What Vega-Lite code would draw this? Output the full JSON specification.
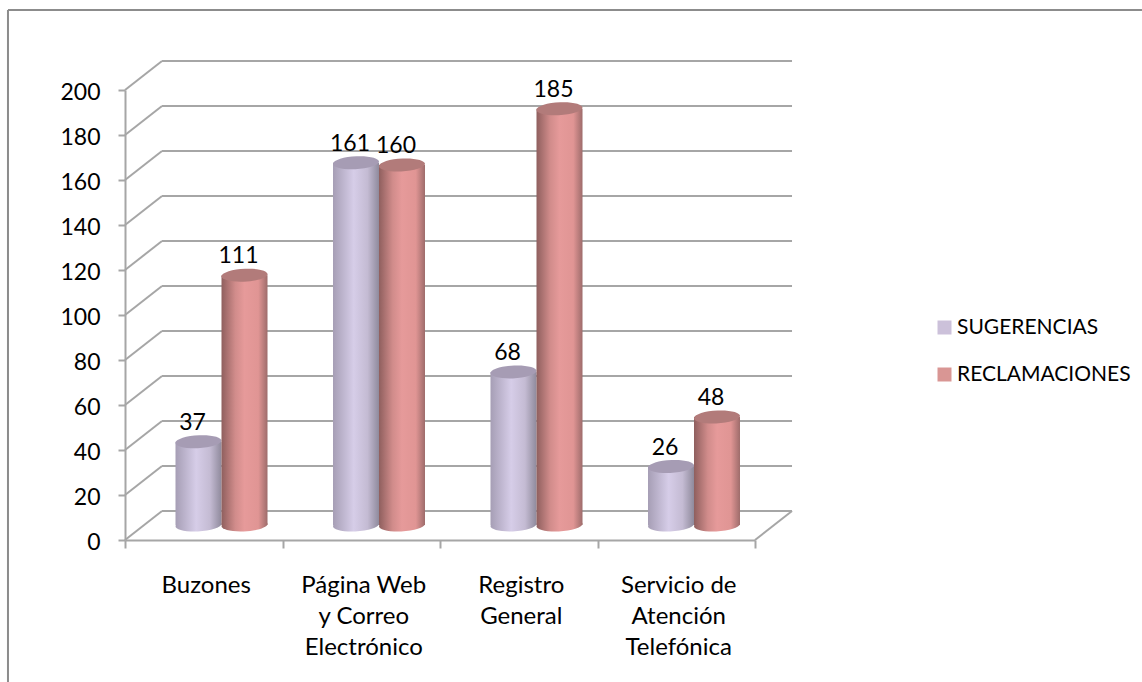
{
"$schema":"https://vega.github.io/schema/vega-lite/v6.json",
"width":630,"height":450,
"autosize":{"type":"none"},
"padding":{"left":125,"top":90,"right":387,"bottom":142},
"background":"white",
"config":{"view":{"stroke":null},"font":"Lato","text":{"font":"Lato"}},
"datasets":{
"grid":[{"value":0,"back":12.89},{"value":20,"back":32.89},{"value":40,"back":52.89},{"value":60,"back":72.89},{"value":80,"back":92.89},{"value":100,"back":112.89},{"value":120,"back":132.89},{"value":140,"back":152.89},{"value":160,"back":172.89},{"value":180,"back":192.89},{"value":200,"back":212.89}],
"bars":[
{"categoria":"Buzones","serie":"SUGERENCIAS","valor":37},
{"categoria":"Buzones","serie":"RECLAMACIONES","valor":111},
{"categoria":"Página Web y Correo Electrónico","serie":"SUGERENCIAS","valor":161},
{"categoria":"Página Web y Correo Electrónico","serie":"RECLAMACIONES","valor":160},
{"categoria":"Registro General","serie":"SUGERENCIAS","valor":68},
{"categoria":"Registro General","serie":"RECLAMACIONES","valor":185},
{"categoria":"Servicio de Atención Telefónica","serie":"SUGERENCIAS","valor":26},
{"categoria":"Servicio de Atención Telefónica","serie":"RECLAMACIONES","valor":48}
]},
"resolve":{"scale":{"x":"independent","y":"independent"}},
"layer":[
{"data":{"name":"grid"},
 "layer":[
 {"mark":{"type":"rule","color":"#a6a6a6","strokeWidth":2},
  "encoding":{"x":{"datum":0.235,"type":"quantitative","scale":{"domain":[0,4],"nice":false,"zero":false},"axis":null},"x2":{"datum":4.235},"y":{"field":"back","type":"quantitative","scale":{"domain":[0,200],"nice":false},"axis":{"title":null,"values":[0,20,40,60,80,100,120,140,160,180,200],"grid":false,"domain":true,"domainColor":"#a6a6a6","domainWidth":2,"ticks":true,"tickColor":"#a6a6a6","tickWidth":2,"tickSize":7,"labelFont":"Lato","labelFontSize":23,"labelColor":"#000000","labelPadding":18,"labelOffset":2}}}},
 {"mark":{"type":"rule","color":"#a6a6a6","strokeWidth":2},
  "encoding":{"x":{"datum":0,"type":"quantitative"},"x2":{"datum":0.235},"y":{"field":"value","type":"quantitative"},"y2":{"field":"back"}}},
 {"data":{"values":[{"x":4,"x2":4.235,"y":0,"y2":12.89}]},
  "mark":{"type":"rule","color":"#a6a6a6","strokeWidth":2},
  "encoding":{"x":{"field":"x","type":"quantitative"},"x2":{"field":"x2"},"y":{"field":"y","type":"quantitative"},"y2":{"field":"y2"}}},
 {"data":{"values":[{"x":-0.743,"x2":-0.743,"y":-63.1,"y2":235.6},{"x":-0.743,"x2":6.457,"y":235.6,"y2":235.6}]},
  "mark":{"type":"rule","color":"#8c8c8c","strokeWidth":2},
  "encoding":{"x":{"field":"x","type":"quantitative"},"x2":{"field":"x2"},"y":{"field":"y","type":"quantitative"},"y2":{"field":"y2"}}}
 ]},
{"data":{"name":"bars"},
 "encoding":{
  "x":{"field":"categoria","type":"nominal","sort":null,
   "scale":{"domain":["Buzones","Página Web y Correo Electrónico","Registro General","Servicio de Atención Telefónica"],"paddingInner":0,"paddingOuter":0},
   "axis":{"title":null,"orient":"bottom","domain":true,"domainColor":"#a6a6a6","domainWidth":2,"ticks":true,"tickBand":"extent","tickColor":"#a6a6a6","tickWidth":2,"tickSize":8,"labelAngle":0,"labelFont":"Lato","labelFontSize":24,"labelColor":"#000000","labelPadding":25,"labelLineHeight":31,"labelBaseline":"top","labelOffset":2,"labelExpr":"{'Buzones':['Buzones'],'Página Web y Correo Electrónico':['Página Web','y Correo','Electrónico'],'Registro General':['Registro','General'],'Servicio de Atención Telefónica':['Servicio de','Atención','Telefónica']}[datum.label]"}},
  "xOffset":{"field":"serie","type":"nominal","sort":null,"scale":{"domain":["SUGERENCIAS","RECLAMACIONES"],"range":[50.5,142.5],"paddingInner":0,"paddingOuter":0}},
  "y":{"field":"valor","type":"quantitative","scale":{"domain":[0,200],"nice":false,"range":[435,-15]},"axis":null}
 },
 "layer":[
 {"mark":{"type":"point","filled":true,"opacity":0},
  "encoding":{"color":{"field":"serie","type":"nominal","scale":{"domain":["SUGERENCIAS","RECLAMACIONES"],"range":["#ccc1da","#d99694"]},
   "legend":{"title":null,"orient":"none","legendX":809,"legendY":227,"symbolType":"square","symbolSize":196,"symbolOpacity":1,"symbolStrokeWidth":0,"labelFont":"Lato","labelFontSize":21,"labelColor":"#000000","labelOffset":2,"labelLimit":400,"rowPadding":25}}}},
 {"transform":[{"filter":"datum.serie=='SUGERENCIAS'"}],"mark":{"type":"point","filled":true,"size":2116,"opacity":1,"shape":"M-1,0.04 A1,0.28,-3,1,1,1,-0.04 A1,0.28,-3,1,1,-1,0.04 Z","fill":{"x1":0,"x2":1,"y1":0,"y2":0,"gradient":"linear","stops":[{"offset":0,"color":"#a69eb5"},{"offset":0.45,"color":"#d6cde8"},{"offset":0.75,"color":"#c4bbd3"},{"offset":1,"color":"#8f8a9c"}]}},"encoding":{"y":{"datum":0,"type":"quantitative"}}},
 {"transform":[{"filter":"datum.serie=='SUGERENCIAS'"}],"mark":{"type":"bar","fill":{"x1":0,"x2":1,"y1":0,"y2":0,"gradient":"linear","stops":[{"offset":0,"color":"#a69eb5"},{"offset":0.45,"color":"#d6cde8"},{"offset":0.75,"color":"#c4bbd3"},{"offset":1,"color":"#8f8a9c"}]}},"encoding":{"y2":{"datum":0}}},
 {"transform":[{"filter":"datum.serie=='SUGERENCIAS'"}],"mark":{"type":"point","filled":true,"size":2116,"opacity":1,"shape":"M-1,0.04 A1,0.28,-3,1,1,1,-0.04 A1,0.28,-3,1,1,-1,0.04 Z","fill":"#a69cb4"}},
 {"transform":[{"filter":"datum.serie=='RECLAMACIONES'"}],"mark":{"type":"point","filled":true,"size":2116,"opacity":1,"shape":"M-1,0.04 A1,0.28,-3,1,1,1,-0.04 A1,0.28,-3,1,1,-1,0.04 Z","fill":{"x1":0,"x2":1,"y1":0,"y2":0,"gradient":"linear","stops":[{"offset":0,"color":"#8f5f5e"},{"offset":0.3,"color":"#d18c8b"},{"offset":0.5,"color":"#e69a9a"},{"offset":0.8,"color":"#e09594"},{"offset":1,"color":"#9e6c6b"}]}},"encoding":{"y":{"datum":0,"type":"quantitative"}}},
 {"transform":[{"filter":"datum.serie=='RECLAMACIONES'"}],"mark":{"type":"bar","fill":{"x1":0,"x2":1,"y1":0,"y2":0,"gradient":"linear","stops":[{"offset":0,"color":"#8f5f5e"},{"offset":0.3,"color":"#d18c8b"},{"offset":0.5,"color":"#e69a9a"},{"offset":0.8,"color":"#e09594"},{"offset":1,"color":"#9e6c6b"}]}},"encoding":{"y2":{"datum":0}}},
 {"transform":[{"filter":"datum.serie=='RECLAMACIONES'"}],"mark":{"type":"point","filled":true,"size":2116,"opacity":1,"shape":"M-1,0.04 A1,0.28,-3,1,1,1,-0.04 A1,0.28,-3,1,1,-1,0.04 Z","fill":"#b27b7a"}},
 {"mark":{"type":"text","font":"Lato","fontSize":23,"color":"#000000","dx":-6,"dy":-19,"baseline":"middle"},"encoding":{"text":{"field":"valor","type":"quantitative"}}}
 ]}
]}
